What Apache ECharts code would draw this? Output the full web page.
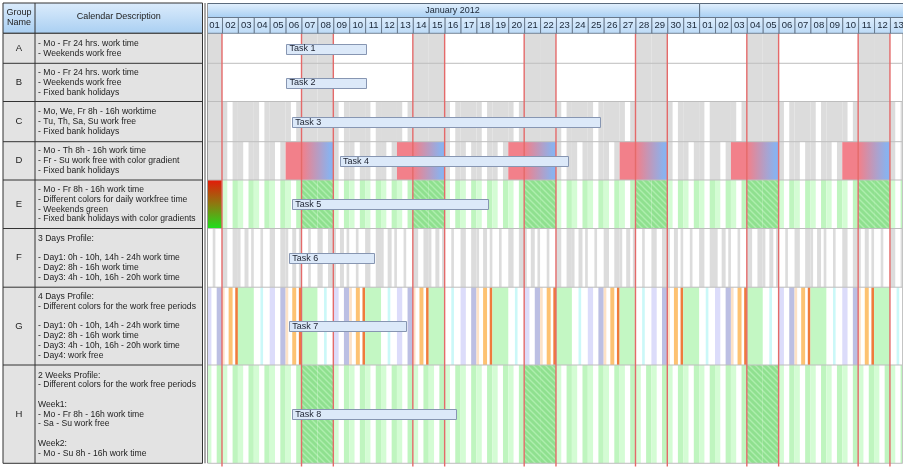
<!DOCTYPE html>
<html><head><meta charset="utf-8">
<script src="https://cdn.jsdelivr.net/npm/echarts@6/dist/echarts.min.js"></script>
<style>html,body{margin:0;padding:0;background:#fff}#c{width:908px;height:468px}</style>
</head><body><div id="c"></div>
<script>
// ================= DATA =================
const groupNames = ['A','B','C','D','E','F','G','H'];
const descriptions = [
  ['- Mo - Fr 24 hrs. work time','- Weekends work free'],
  ['- Mo - Fr 24 hrs. work time','- Weekends work free','- Fixed bank holidays'],
  ['- Mo, We, Fr 8h - 16h worktime','- Tu, Th, Sa, Su work free','- Fixed bank holidays'],
  ['- Mo - Th 8h - 16h work time','- Fr - Su work free with color gradient','- Fixed bank holidays'],
  ['- Mo - Fr 8h - 16h work time','- Different colors for daily workfree time','- Weekends green','- Fixed bank holidays with color gradients'],
  ['3 Days Profile:','','- Day1: 0h - 10h, 14h - 24h work time','- Day2: 8h - 16h work time','- Day3: 4h - 10h, 16h - 20h work time'],
  ['4 Days Profile:','- Different colors for the work free periods','','- Day1: 0h - 10h, 14h - 24h work time','- Day2: 8h - 16h work time','- Day3: 4h - 10h, 16h - 20h work time','- Day4: work free'],
  ['2 Weeks Profile:','- Different colors for the work free periods','','Week1:','- Mo - Fr 8h - 16h work time','- Sa - Su work free','','Week2:','- Mo - Su 8h - 16h work time']
];
const headerGroup = ['Group','Name'];
const headerDesc = 'Calendar Description';
const monthLabels = ['January 2012','February 2012'];
const monthStartDay = [0, 31];     // days since 01 Jan 2012 00:00
const monthEndDay = [31, 60];
const dayLabels = ['01','02','03','04','05','06','07','08','09','10','11','12','13','14','15','16','17','18','19','20','21','22','23','24','25','26','27','28','29','30','31',
                   '01','02','03','04','05','06','07','08','09','10','11','12','13'];
const taskNames = ['Task 1','Task 2','Task 3','Task 4','Task 5','Task 6','Task 7','Task 8'];
const taskStart = [5.05, 5.05, 5.42, 8.42, 5.42, 5.23, 5.23, 5.42];
const taskEnd   = [10.05, 10.05, 24.77, 22.73, 17.74, 10.58, 12.57, 15.71];
const holidays = [1];                 // 1 Jan (fixed bank holiday)
const firstWeekday = 0;               // 1 Jan 2012 = Sunday
// free periods [fromHour, toHour, colourKey]
const profileF = [ [[10,14,'gray']], [[0,8,'gray'],[16,24,'gray']], [[0,4,'gray'],[10,16,'gray'],[20,24,'gray']] ];
const profileFOffset = -1;            // 1 Jan = Day1
const profileG = [ [[10,14,'cyan']], [[0,8,'lav'],[16,24,'blueGray']], [[0,4,'peach'],[10,16,'orange'],[20,24,'darkOrange']], [[0,24,'green']] ];
const profileGOffset = 0;             // 1 Jan = Day2
const weekProfileHOffset = -2;        // week starting 2 Jan = Week1

// ================= LAYOUT / STYLE =================
const FONT = '"Liberation Sans", Arial, sans-serif';
const rowEdges = [33.3, 63.3, 101.5, 141.7, 180, 228.5, 287.2, 365, 463.3];
const HT = 3, HM = 17, HB = 33.3;
const X_MIN = 0.12, X_MAX = 43.82;
const NDAYS = 44;

const hatch = (function(){
  const c = document.createElement('canvas'); c.width = 6; c.height = 6;
  const g = c.getContext('2d');
  g.fillStyle = '#8fe08f'; g.fillRect(0,0,6,6);
  g.strokeStyle = '#aeeeae'; g.lineWidth = 1.4;
  g.beginPath();
  g.moveTo(-1,-1); g.lineTo(7,7);
  g.moveTo(-4,2); g.lineTo(4,10);
  g.moveTo(2,-4); g.lineTo(10,4);
  g.stroke();
  return c;
})();
const fills = {
  gray: '#dcdcdc',
  gradD: new echarts.graphic.LinearGradient(0,0,1,0,[{offset:0,color:'#f2808a'},{offset:0.34,color:'#f2808a'},{offset:0.93,color:'#8ab2ee'},{offset:1,color:'#8ab2ee'}]),
  gradE: new echarts.graphic.LinearGradient(0,0,0,1,[{offset:0,color:'#e41a08'},{offset:0.5,color:'#8c7a10'},{offset:1,color:'#1ee01e'}]),
  hatch: {image: hatch, repeat: 'repeat'},
  sA: '#d4fcd4', sB: '#bff5bf',
  cyan: '#cbf8f8', lav: '#dcdcfa', blueGray: '#bcbfe3',
  peach: '#fde2c6', orange: '#fdc272', darkOrange: '#ef7b3c', green: '#c3f7c3'
};
const fillKeys = Object.keys(fills);

// ================= CALENDAR SEGMENTS =================
const segs = [];
function add(d, h0, h1, row, key){ segs.push([d-1+h0/24, d-1+h1/24, row, fillKeys.indexOf(key)]); }
const mod = (a,n) => ((a % n) + n) % n;
const redLineX = [];
for (let d = 1; d <= NDAYS; d++) {
  const wd = mod(d-1+firstWeekday, 7);
  const we = (wd === 0 || wd === 6);
  const hol = holidays.indexOf(d) >= 0;
  if (wd === 1 || wd === 6) redLineX.push(d-1);
  // A
  if (we) add(d,0,24,0,'gray');
  // B
  if (we || hol) add(d,0,24,1,'gray');
  // C
  if (!hol && (wd===1||wd===3||wd===5)) { add(d,0,8,2,'gray'); add(d,16,24,2,'gray'); }
  else add(d,0,24,2,'gray');
  // D
  if (hol) add(d,0,24,3,'gray');
  else if (wd>=1 && wd<=4) { add(d,0,8,3,'gray'); add(d,16,24,3,'gray'); }
  else if (wd === 5) segs.push([d-1, d+2, 3, fillKeys.indexOf('gradD')]);
  // E
  if (hol) add(d,0,24,4,'gradE');
  else if (we) add(d,0,24,4,'hatch');
  else { add(d,0,8,4,'sA'); add(d,16,24,4,'sB'); }
  // F
  profileF[mod(d+profileFOffset,3)].forEach(p => add(d,p[0],p[1],5,p[2]));
  // G
  profileG[mod(d+profileGOffset,4)].forEach(p => add(d,p[0],p[1],6,p[2]));
  // H
  const wk = mod(Math.floor((d+weekProfileHOffset)/7), 2);
  if (wk === 0 && we) add(d,0,24,7,'hatch');
  else { add(d,0,8,7,'sA'); add(d,16,24,7,'sB'); }
}

// ================= TABLE (left) =================
const tbl = [];
const TL = 3, TC = 35, TR = 202.5;
tbl.push({type:'rect', shape:{x:TL,y:HT,width:TR-TL,height:HB-HT}, style:{fill:new echarts.graphic.LinearGradient(0,0,0,1,[{offset:0,color:'#dcecfc'},{offset:1,color:'#a9cff2'}]), stroke:'#333', lineWidth:1}});
tbl.push({type:'rect', shape:{x:TL,y:HB,width:TR-TL,height:rowEdges[8]-HB}, style:{fill:'#e3e3e3', stroke:'#333', lineWidth:1}});
tbl.push({type:'line', shape:{x1:TC,y1:HT,x2:TC,y2:rowEdges[8]}, style:{stroke:'#333', lineWidth:1}});
tbl.push({type:'line', shape:{x1:205,y1:HT,x2:205,y2:rowEdges[8]}, style:{stroke:'#555', lineWidth:1}});
tbl.push({type:'line', shape:{x1:207.5,y1:HT,x2:207.5,y2:rowEdges[8]}, style:{stroke:'#999', lineWidth:1}});
for (let i = 1; i < 8; i++) tbl.push({type:'line', shape:{x1:TL,y1:rowEdges[i],x2:TR,y2:rowEdges[i]}, style:{stroke:'#333', lineWidth:1}});
headerGroup.forEach((t,i) => tbl.push({type:'text', x:(TL+TC)/2, y:13 + i*10, style:{text:t, font:'9px '+FONT, fill:'#222', textAlign:'center', textVerticalAlign:'middle'}}));
tbl.push({type:'text', x:(TC+TR)/2, y:17, style:{text:headerDesc, font:'9px '+FONT, fill:'#222', textAlign:'center', textVerticalAlign:'middle'}});
const LH = 9.75;
groupNames.forEach((g,i) => {
  const cy = (rowEdges[i]+rowEdges[i+1])/2;
  tbl.push({type:'text', x:(TL+TC)/2, y:cy, style:{text:g, font:'9.5px '+FONT, fill:'#222', textAlign:'center', textVerticalAlign:'middle'}});
  const lines = descriptions[i];
  lines.forEach((t,k) => {
    if (!t) return;
    tbl.push({type:'text', x:38, y:cy + (k-(lines.length-1)/2)*LH, style:{text:t, font:'8.6px '+FONT, fill:'#222', textAlign:'left', textVerticalAlign:'middle'}});
  });
});

// ================= SERIES =================
const calSeries = {
  type:'custom', clip:true, progressive:0, z:1,
  data: segs,
  renderItem(params, api){
    const r = api.value(2);
    const p0 = api.coord([api.value(0), rowEdges[r]]);
    const p1 = api.coord([api.value(1), rowEdges[r+1]]);
    return {type:'rect', shape:{x:p0[0], y:p0[1], width:p1[0]-p0[0], height:p1[1]-p0[1]}, style:{fill: fills[fillKeys[api.value(3)]]}};
  }
};
const sepSeries = {
  type:'custom', clip:true, z:2,
  data: rowEdges.slice(1).map(y => [y]),
  renderItem(params, api){
    const a = api.coord([X_MIN, api.value(0)]), b = api.coord([X_MAX, api.value(0)]);
    return {type:'line', shape:{x1:a[0],y1:a[1],x2:b[0]-0.5,y2:b[1]}, style:{stroke:'#bdbdbd', lineWidth:1}};
  }
};
const rightBorder = {
  type:'custom', clip:false, z:2,
  data: [[X_MAX]],
  renderItem(params, api){
    const a = api.coord([api.value(0), HB]), b = api.coord([api.value(0), rowEdges[8]]);
    return {type:'line', shape:{x1:a[0]-0.5,y1:a[1],x2:b[0]-0.5,y2:b[1]}, style:{stroke:'#c4c4c4', lineWidth:1}};
  }
};
const redSeries = {
  type:'custom', clip:true, z:3,
  data: redLineX.map(x => [x]),
  renderItem(params, api){
    const a = api.coord([api.value(0), HB]), b = api.coord([api.value(0), 466.5]);
    return {type:'line', shape:{x1:a[0],y1:a[1],x2:b[0],y2:b[1]}, style:{stroke:'#e46a6a', lineWidth:1.4}};
  }
};
const taskSeries = {
  type:'custom', clip:true, z:4,
  data: taskStart.map((s,i) => [s, taskEnd[i], i]),
  renderItem(params, api){
    const r = api.value(2);
    const cy = (rowEdges[r]+rowEdges[r+1])/2;
    const p0 = api.coord([api.value(0), cy-4.8]);
    const p1 = api.coord([api.value(1), cy+4.8]);
    return {type:'group', children:[
      {type:'rect', shape:{x:Math.round(p0[0])+0.5, y:Math.round(p0[1])+0.5, width:Math.round(p1[0]-p0[0]), height:Math.round(p1[1]-p0[1])},
       style:{fill:'#dce9f9', stroke:'#8796b2', lineWidth:1}},
      {type:'text', x:p0[0]+3, y:cy+0.5, style:{text:taskNames[params.dataIndex], font:'9px '+FONT, fill:'#1c2230', textAlign:'left', textVerticalAlign:'middle'}}
    ]};
  }
};
const monthSeries = {
  type:'custom', clip:true, z:5,
  data: monthStartDay.map((s,i) => [s, monthEndDay[i], i]),
  renderItem(params, api){
    const x0 = api.value(0), x1 = api.value(1);
    const p0 = api.coord([x0, HT]), p1 = api.coord([x1, HM]);
    const mid = (x0 + x1) / 2;
    const children = [
      {type:'rect', shape:{x:p0[0]+0.5, y:p0[1]+0.5, width:p1[0]-p0[0], height:p1[1]-p0[1]},
       style:{fill:new echarts.graphic.LinearGradient(0,0,0,1,[{offset:0,color:'#e4f1fd'},{offset:1,color:'#a6cef3'}]), stroke:'#5b6b7d', lineWidth:1}}
    ];
    if (mid < X_MAX - 2) children.push({type:'text', x:(p0[0]+p1[0])/2, y:(p0[1]+p1[1])/2+0.5, style:{text:monthLabels[params.dataIndex], font:'9px '+FONT, fill:'#1a2636', textAlign:'center', textVerticalAlign:'middle'}});
    return {type:'group', children};
  }
};
const daySeries = {
  type:'custom', clip:true, z:5,
  data: dayLabels.map((l,i) => [i, i+1]),
  renderItem(params, api){
    const p0 = api.coord([api.value(0), HM]), p1 = api.coord([api.value(1), HB]);
    return {type:'group', children:[
      {type:'rect', shape:{x:p0[0]+0.5, y:p0[1]+0.5, width:p1[0]-p0[0], height:p1[1]-p0[1]-0.5},
       style:{fill:new echarts.graphic.LinearGradient(0,0,0,1,[{offset:0,color:'#dcedfd'},{offset:1,color:'#bcdaf6'}]), stroke:'#5b6b7d', lineWidth:0.8}},
      {type:'text', x:(p0[0]+p1[0])/2+0.5, y:(p0[1]+p1[1])/2+0.5, style:{text:dayLabels[params.dataIndex], font:'9.5px '+FONT, fill:'#1a2636', textAlign:'center', textVerticalAlign:'middle'}}
    ]};
  }
};

const chart = echarts.init(document.getElementById('c'), null, {renderer:'canvas', width:908, height:468});
chart.setOption({
  animation:false,
  backgroundColor:'#ffffff',
  grid:[{left:208, right:5, top:0, bottom:0, show:false}],
  xAxis:[{type:'value', min:X_MIN, max:X_MAX, show:false}],
  yAxis:[{type:'value', min:0, max:468, inverse:true, show:false}],
  graphic: tbl,
  series:[calSeries, sepSeries, rightBorder, redSeries, taskSeries, monthSeries, daySeries]
});
</script>
</body></html>
